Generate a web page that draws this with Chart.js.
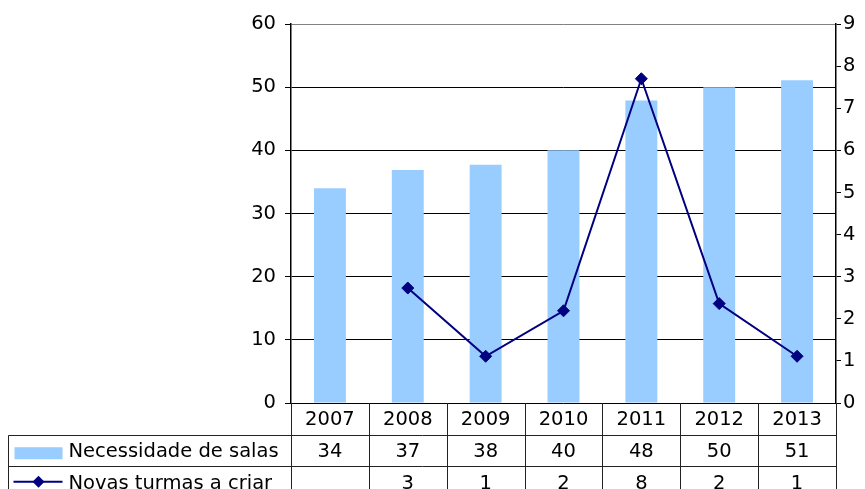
<!DOCTYPE html>
<html>
<head>
<meta charset="utf-8">
<script src="https://cdn.jsdelivr.net/npm/chart.js@4"></script>
<style>
  html, body { margin: 0; padding: 0; background: #fff; }
  #wrap { width: 865px; height: 489px; }
</style>
</head>
<body>
<div id="wrap"><canvas id="chart"></canvas></div>
<script>
let years = ["2007", "2008", "2009", "2010", "2011", "2012", "2013"];
let salas = [34, 36.9, 37.7, 40, 47.9, 50, 51.1];
let turmas = [null, 2.73, 1.11, 2.19, 7.7, 2.36, 1.11];
let seriesNames = ["Necessidade de salas", "Novas turmas a criar"];

let fontFamily = "'DejaVu Sans', Verdana, sans-serif";
let fontSize = 19.5;
let barColor = "#99CCFF";
let lineColor = "#000080";

Chart.defaults.font.family = fontFamily;
Chart.defaults.font.size = fontSize;
Chart.defaults.color = "#000";

function crisp(v) {
    return Math.round(v) + 0.5;
}

function diamond(ctx, x, y, r) {
    ctx.beginPath();
    ctx.moveTo(x - r, y);
    ctx.lineTo(x, y - r);
    ctx.lineTo(x + r, y);
    ctx.lineTo(x, y + r);
    ctx.closePath();
    ctx.fillStyle = lineColor;
    ctx.fill();
}

// data table under the plot, positioned from the x scale
let dataTable = {
    id: "dataTable",
    afterDraw(chart) {
        let ctx = chart.ctx;
        let x = chart.scales.x;
        let area = chart.chartArea;
        let rowH = 31.5;
        let half = (x.getPixelForValue(1) - x.getPixelForValue(0)) / 2;
        let legendLeft = 8.5;
        let top = area.bottom;
        let bottom = top + rowH * 3;

        ctx.save();
        ctx.strokeStyle = "#222";
        ctx.lineWidth = 1;
        ctx.beginPath();
        for (let i = 0; i <= years.length; i++) {
            let px = crisp(x.getPixelForValue(i) - half);
            ctx.moveTo(px, top);
            ctx.lineTo(px, bottom);
        }
        for (let r = 1; r <= 2; r++) {
            let py = crisp(top + rowH * r);
            ctx.moveTo(legendLeft, py);
            ctx.lineTo(crisp(area.right), py);
        }
        ctx.moveTo(legendLeft, crisp(top + rowH));
        ctx.lineTo(legendLeft, bottom);
        ctx.stroke();

        ctx.font = fontSize + "px " + fontFamily;
        ctx.fillStyle = "#000";
        ctx.textAlign = "center";
        ctx.textBaseline = "middle";
        for (let i = 0; i < years.length; i++) {
            let cx = x.getPixelForValue(i);
            ctx.fillText(years[i], cx, top + rowH * 0.5 + 1);
            if (salas[i] !== null) ctx.fillText(Math.round(salas[i]), cx, top + rowH * 1.5 + 2);
            if (turmas[i] !== null) ctx.fillText(Math.round(turmas[i]), cx, top + rowH * 2.5 + 2);
        }

        // legend keys
        let row2 = top + rowH * 1.5;
        let row3 = top + rowH * 2.5;
        ctx.fillStyle = barColor;
        ctx.fillRect(legendLeft + 6, row2 - 3, 48, 12);
        ctx.strokeStyle = lineColor;
        ctx.lineWidth = 2;
        ctx.beginPath();
        ctx.moveTo(legendLeft + 5, row3);
        ctx.lineTo(legendLeft + 54, row3);
        ctx.stroke();
        diamond(ctx, legendLeft + 30, row3, 6);

        ctx.fillStyle = "#000";
        ctx.textAlign = "left";
        ctx.fillText(seriesNames[0], legendLeft + 60, row2 + 2);
        ctx.fillText(seriesNames[1], legendLeft + 60, row3 + 2);
        ctx.restore();
    }
};

new Chart(document.getElementById("chart").getContext("2d"), {
    type: "bar",
    data: {
        labels: years,
        datasets: [
            {
                type: "line",
                label: seriesNames[1],
                data: turmas,
                yAxisID: "y1",
                borderColor: lineColor,
                backgroundColor: lineColor,
                borderWidth: 2,
                pointStyle: "rectRot",
                pointRadius: 6,
                pointBorderWidth: 1,
                tension: 0,
                order: 0
            },
            {
                label: seriesNames[0],
                data: salas,
                yAxisID: "y",
                backgroundColor: barColor,
                categoryPercentage: 1,
                barPercentage: 0.41,
                order: 1
            }
        ]
    },
    options: {
        responsive: true,
        maintainAspectRatio: false,
        animation: false,
        layout: { padding: { top: 24, left: 0, right: 0, bottom: 0 } },
        plugins: {
            legend: { display: false },
            tooltip: { enabled: false }
        },
        scales: {
            x: {
                grid: { display: false },
                border: { display: false },
                ticks: { display: false },
                afterFit: scale => { scale.height = 86; }
            },
            y: {
                position: "left",
                min: 0,
                max: 60,
                ticks: { stepSize: 10, padding: 9, color: "#000" },
                grid: {
                    color: c => c.tick.value === 60 ? "#808080" : "#000",
                    tickColor: "#000",
                    tickLength: 6,
                    lineWidth: 1
                },
                border: { color: "#000", width: 1.5 },
                afterFit: scale => { scale.width = 291; }
            },
            y1: {
                position: "right",
                min: 0,
                max: 9,
                ticks: { stepSize: 1, padding: 2, color: "#000" },
                grid: { drawOnChartArea: false, tickColor: "#000", tickLength: 5 },
                border: { color: "#000", width: 1.5 },
                afterFit: scale => { scale.width = 29; }
            }
        }
    },
    plugins: [dataTable]
});
</script>
</body>
</html>
